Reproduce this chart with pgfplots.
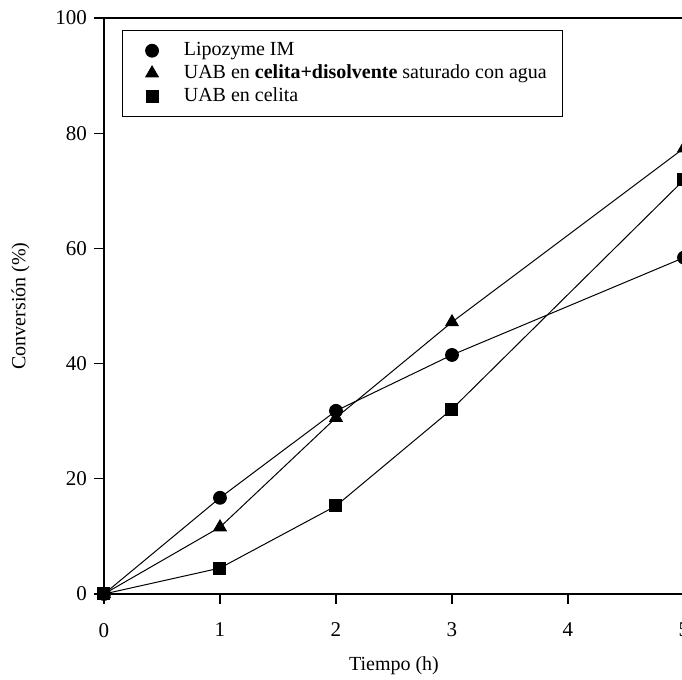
\documentclass[border=0pt]{standalone}
\usepackage{fontspec}
\setmainfont{Liberation Serif}
\usepackage{pgfplots}
\pgfplotsset{compat=1.18}
\begin{document}
\begin{tikzpicture}
\begin{axis}[
  scale only axis, width=290pt, height=288pt,
  xmin=0, xmax=5, ymin=0, ymax=100,
  xtick={0,1,2,3,4,5}, ytick={0,20,40,60,80,100},
  xtick pos=left, ytick pos=left, tick align=outside,
  major tick length=5pt,
  axis line style={line width=0.7pt}, every tick/.style={black, line width=0.6pt},
  tick label style={font=\fontsize{10.5}{12}\selectfont},
  xticklabel style={yshift=-6pt},
  /pgf/number format/assume math mode=true,
  xlabel={Tiempo (h)}, ylabel={Conversión (\%)},
  label style={font=\fontsize{10}{12}\selectfont},
  xlabel style={yshift=-3pt},
  ylabel style={yshift=6pt},
  clip=false,
  legend style={at={(0.031,0.979)}, anchor=north west, draw=black, line width=0.5pt,
    font=\fontsize{10}{11}\selectfont, cells={anchor=west}, row sep=-1pt,
    inner xsep=6pt, inner ysep=4pt},
  legend image code/.code={\path (0,0) (0.78cm,0); \draw[#1] plot[only marks] coordinates {(0.3cm,0cm)};},
]
\coordinate (o) at (axis cs:0,0);
\addplot[black, line width=0.5pt, mark=*, mark size=3.2pt] coordinates {(0,0) (1,16.7) (2,31.8) (3,41.5) (5,58.4)};
\addplot[black, line width=0.5pt, mark=triangle*, mark size=3.6pt] coordinates {(0,0) (1,11.6) (2,30.6) (3,47.2) (5,77.4)};
\addplot[black, line width=0.5pt, mark=square*, mark size=3.0pt] coordinates {(0,0) (1,4.5) (2,15.3) (3,32.1) (5,71.9)};
\legend{Lipozyme IM, UAB en \textbf{celita+disolvente} saturado con agua, UAB en celita}
\end{axis}
\pgfresetboundingbox
\path[use as bounding box] ([shift={(-52pt,-43pt)}]o) rectangle ([shift={(289pt,297pt)}]o);
\end{tikzpicture}
\end{document}
